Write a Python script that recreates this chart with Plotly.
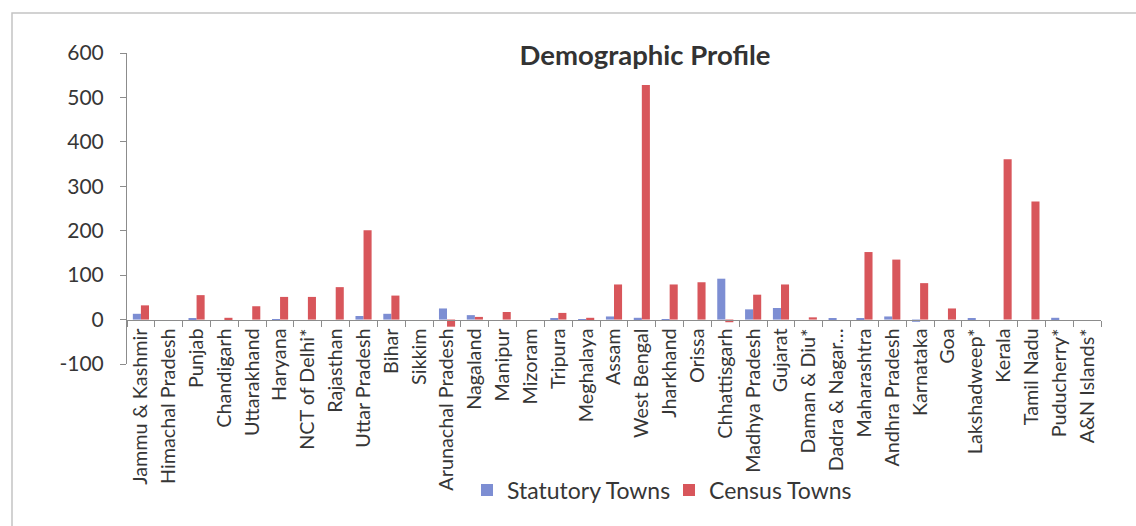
import plotly.graph_objects as go

# State / UT categories along the x axis
states = [
    "Jammu & Kashmir", "Himachal Pradesh", "Punjab", "Chandigarh", "Uttarakhand",
    "Haryana", "NCT of Delhi*", "Rajasthan", "Uttar Pradesh", "Bihar", "Sikkim",
    "Arunachal Pradesh", "Nagaland", "Manipur", "Mizoram", "Tripura", "Meghalaya",
    "Assam", "West Bengal", "Jharkhand", "Orissa", "Chhattisgarh", "Madhya Pradesh",
    "Gujarat", "Daman & Diu*", "Dadra & Nagar…", "Maharashtra", "Andhra Pradesh",
    "Karnataka", "Goa", "Lakshadweep*", "Kerala", "Tamil Nadu", "Puducherry*",
    "A&N Islands*",
]

statutory_towns = [13, 0, 3, 0, 0, -3, 0, 0, 8, 13, 0, 25, 10, 0, 0, 2, 1, 7, 4, -3,
                   0, 92, 23, 26, 0, 2, 3, 7, -5, 0, 2, 0, 0, 4, 0]
census_towns = [32, 0, 55, 4, 30, 51, 51, 73, 201, 54, 0, -16, 6, 17, 0, 15, 4, 79,
                528, 79, 84, -6, 56, 79, 5, 0, 152, 135, 82, 25, 0, 361, 266, 0, 0]

y_ticks = [-100, 0, 100, 200, 300, 400, 500, 600]

W, H = 1136, 526
ML, MR, MT, MB = 127, 35, 53, 162
Y_MIN, Y_MAX = -100, 600


def px_x(p):
    return (p - ML) / (W - ML - MR)


def px_y(p):
    return (H - MB - p) / (H - MT - MB)


FONT = "Lato"
TEXT = "#363636"
AXIS = "#8c8c8c"

fig = go.Figure()
fig.add_trace(go.Bar(x=states, y=statutory_towns, name="Statutory Towns",
                     marker=dict(color="#7d8ed3", line=dict(width=0))))
fig.add_trace(go.Bar(x=states, y=census_towns, name="Census Towns",
                     marker=dict(color="#d8565b", line=dict(width=0))))

fig.update_layout(
    width=W, height=H,
    margin=dict(l=ML, r=MR, t=MT, b=MB, pad=0),
    paper_bgcolor="white", plot_bgcolor="white",
    barmode="group", bargap=0.42, bargroupgap=0,
    font=dict(family=FONT, color=TEXT),
    title=dict(text="<b>Demographic Profile</b>", xref="paper", x=px_x(645),
               xanchor="center", yref="container", y=1 - 55 / H, yanchor="middle",
               font=dict(size=27.5, color="#333333", family=FONT)),
    showlegend=True,
    legend=dict(orientation="h", x=px_x(669), xanchor="center", y=px_y(490),
                yanchor="middle", font=dict(size=23, color=TEXT, family=FONT),
                itemwidth=30, entrywidth=157, entrywidthmode="pixels",
                tracegroupgap=0, bgcolor="rgba(0,0,0,0)"),
    xaxis=dict(
        type="category", anchor="free",
        position=(0 - Y_MIN) / (Y_MAX - Y_MIN),
        showline=True, linecolor=AXIS, linewidth=1,
        ticks="outside", tickson="boundaries", ticklen=6, tickcolor=AXIS,
        tickangle=-90, tickfont=dict(size=19.8, color=TEXT, family=FONT),
        showgrid=False, zeroline=False, fixedrange=True,
    ),
    yaxis=dict(
        range=[Y_MIN, Y_MAX], tickvals=y_ticks,
        ticktext=[str(v) for v in y_ticks],
        showline=True, linecolor=AXIS, linewidth=1,
        ticks="outside", ticklen=6, tickcolor=AXIS,
        ticklabelstandoff=12,
        tickfont=dict(size=21, color=TEXT, family=FONT),
        showgrid=False, zeroline=False,
    ),
    shapes=[dict(type="rect", xref="paper", yref="paper",
                 x0=px_x(12), x1=px_x(1150), y0=px_y(540), y1=px_y(13),
                 line=dict(color="#c4c4c4", width=1.5), layer="below")],
)

fig.write_html("out.html")
